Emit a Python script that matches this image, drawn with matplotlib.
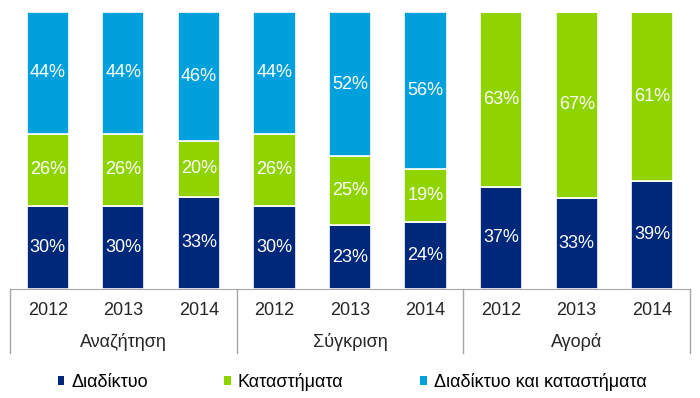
import numpy as np
import matplotlib
matplotlib.use("Agg")
import matplotlib.pyplot as plt
from matplotlib.patches import Patch
import matplotlib.transforms as mtransforms

plt.rcParams['font.family'] = ['Liberation Sans', 'DejaVu Sans']

# data
groups = ["Αναζήτηση", "Σύγκριση", "Αγορά"]
years = ["2012", "2013", "2014"]
online = [30, 30, 33, 30, 23, 24, 37, 33, 39]
stores = [26, 26, 20, 26, 25, 19, 63, 67, 61]
both = [44, 44, 46, 44, 52, 56, 0, 0, 0]
series_names = ["Διαδίκτυο", "Καταστήματα", "Διαδίκτυο και καταστήματα"]
colors = ["#00287a", "#8fd400", "#00a0dc"]

fig = plt.figure(figsize=(7, 3.98), dpi=100)
ax = fig.add_axes([10/700, 1 - 289/398, 680/700, 277/398])

# 100% stacked: scale each column to its total
data = np.array([online, stores, both], dtype=float)
totals = data.sum(axis=0)
x = np.arange(len(online))
bottom = np.zeros(len(x))
for vals, col in zip(data, colors):
    h = vals / totals * 100
    ax.bar(x, h, width=0.56, bottom=bottom, color=col,
           edgecolor="white", linewidth=1.2)
    for xi, b, hv, v in zip(x, bottom, h, vals):
        if v > 0:
            ax.text(xi, b + hv / 2, f"{int(v)}%", ha="center", va="center",
                    color="white", fontsize=13)
    bottom = bottom + h

ax.set_xlim(-0.5, len(x) - 0.5)
ax.set_ylim(0, 100)
ax.set_yticks([])
ax.set_xticks([])
for s in ["top", "right", "left"]:
    ax.spines[s].set_visible(False)
ax.spines["bottom"].set_color("#a6a6a6")

trans = mtransforms.blended_transform_factory(ax.transData, ax.transAxes)
for xi in x:
    ax.text(xi, -0.078, years[xi % 3], transform=trans, ha="center",
            va="center", fontsize=13, color="#262626")
for gi, g in enumerate(groups):
    ax.text(gi * 3 + 1, -0.19, g, transform=trans, ha="center",
            va="center", fontsize=13, color="#262626")
for d in [-0.5, 2.5, 5.5, 8.5]:
    ax.plot([d, d], [0, -0.231], transform=trans, color="#a6a6a6",
            lw=1, clip_on=False)

handles = [Patch(facecolor=c, edgecolor="none") for c in colors]
fig.legend(handles, series_names, loc="center", bbox_to_anchor=(0.503, 1 - 382/398),
           ncol=3, frameon=False, fontsize=13, handlelength=0.35,
           handleheight=0.35, handletextpad=0.4, columnspacing=4.25)

fig.savefig("out.png", dpi=100)
